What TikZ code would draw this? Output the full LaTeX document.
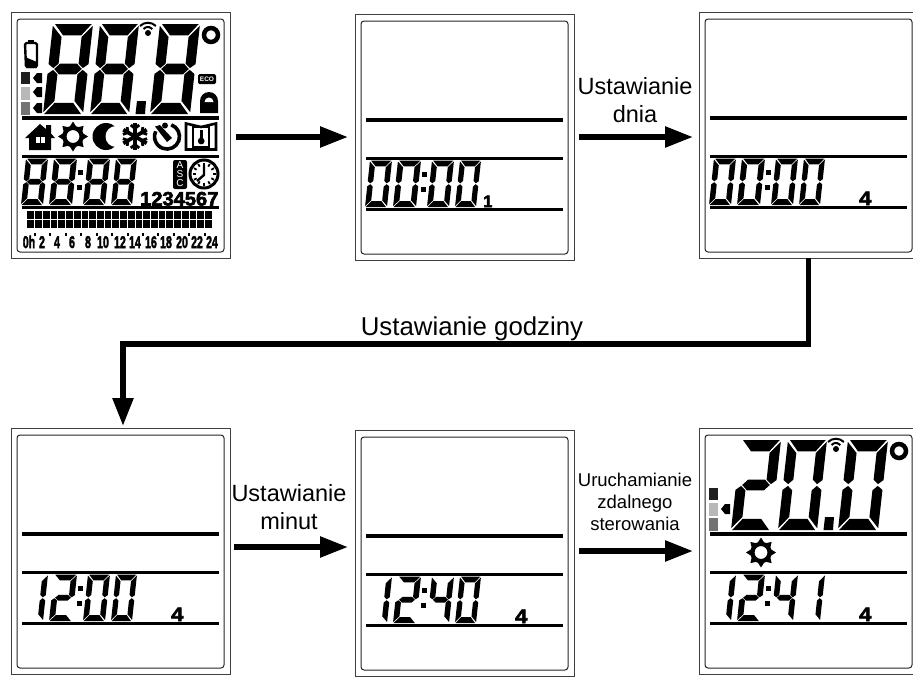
\documentclass[tikz,border=0pt]{standalone}
\usepackage{fontspec}
\usepackage{graphicx}
\setmainfont{Liberation Sans}
\newfontfamily\lcdb[FakeBold=3]{Liberation Sans Bold}
\usetikzlibrary{arrows.meta}
\def\sgA{\fill (.05,0)--(.97,0)--(.74,.125)--(.28,.125)--cycle;}
\def\sgB{\fill (1,.02)--(1,.445)--(.87,.49)--(.75,.44)--(.75,.145)--cycle;}
\def\sgC{\fill (1,.98)--(1,.555)--(.87,.51)--(.75,.56)--(.75,.855)--cycle;}
\def\sgD{\fill (.03,1)--(.95,1)--(.72,.875)--(.26,.875)--cycle;}
\def\sgE{\fill (0,.98)--(0,.555)--(.13,.51)--(.25,.56)--(.25,.855)--cycle;}
\def\sgF{\fill (0,.02)--(0,.445)--(.13,.49)--(.25,.44)--(.25,.145)--cycle;}
\def\sgG{\fill (.155,.5)--(.29,.44)--(.71,.44)--(.845,.5)--(.71,.56)--(.29,.56)--cycle;}
\def\dzero{A,B,C,D,E,F}
\def\done{B,C}
\def\dtwo{A,B,G,E,D}
\def\dfour{F,G,B,C}
\def\deight{A,B,C,D,E,F,G}
\newcommand\sevseg[6]{\begin{scope}[shift={(#1,#2)},x={(#3pt,0pt)},y={(-#5pt,-#4pt)}]
\foreach \s in #6 {\csname sg\s\endcsname}
\end{scope}}
\newcommand\smalltime[4]{%
\sevseg{26}{158.5}{22}{46.5}{5}{#1}
\sevseg{54}{158.5}{23}{46.5}{5}{#2}
\sevseg{88}{158.5}{22}{46.5}{5}{#3}
\sevseg{116}{158.5}{21}{46.5}{5}{#4}
\fill (77.5,170)rectangle(82.5,175);
\fill (76.5,185)rectangle(81.5,190);}
\newcommand\bigtemp[3]{%
\sevseg{53}{24}{40}{90}{10}{#1}
\sevseg{100}{24}{39}{90}{10}{#2}
\sevseg{160}{24}{40}{90}{10}{#3}
\fill (137,101)--(146,101)--(145,114)--(135.5,114)--cycle;}
\newcommand\common{%
\fill[black!88] (21,72)rectangle(30,84);
\fill[black!28] (21,87)rectangle(30,100);
\fill[black!55] (21,102)rectangle(30,115);
\draw[line width=4.5] (211,35) circle[radius=7];
\fill (148,33) circle[radius=3];
\draw[line width=2] (143.5,29) arc[start angle=-140,end angle=-40,radius=5.8];
\draw[line width=2] (140,26) arc[start angle=-135,end angle=-45,radius=11.2];}
\newcommand\pointer[1]{\fill (33,#1)--(37,#1-5)--(42,#1-5)--(42,#1+5)--(37,#1+5)--cycle;}
\newcommand\sunicon{\begin{scope}[shift={(73,136.5)}]
\foreach \a in {0,45,...,315} {\fill (\a-21:10) -- (\a:15) -- (\a+21:10) -- cycle;}
\draw[line width=4.2] (0,0) circle[radius=8.6];
\end{scope}}
\newcommand\lcdpanel[4]{\begin{scope}[shift={(#2,#3)}]
\node[outerbox] (#1) at (120.5,135) {};
\node[innerbox] (#1in) at (120.5,135.5) {};
\draw[line width=3.2] (22,118)--(219,118);
\draw[line width=3] (22,156)--(219,156);
\draw[line width=3] (22,207)--(219,207);
#4
\end{scope}}
\tikzset{
 outerbox/.style={draw=black!75,fill=white,line width=1pt,minimum width=219pt,minimum height=246pt,inner sep=0pt,outer sep=0pt},
 innerbox/.style={draw=black!85,line width=1pt,rounded corners=3pt,minimum width=207pt,minimum height=233pt,inner sep=0pt,outer sep=0pt},
 bigarrow/.style={line width=5.5pt,-{Triangle[length=28pt,width=20pt]}},
 lab/.style={anchor=base,align=center,inner sep=0pt,font=\fontsize{23.5}{27.5}\selectfont},
 smalllab/.style={anchor=base,align=center,inner sep=0pt,font=\fontsize{18.5}{22}\selectfont},
 daynum/.style={anchor=base,inner sep=0pt,font=\lcdb\fontsize{19.5}{19.5}\selectfont},
 hourlab/.style={anchor=base,inner sep=0pt,font=\lcdb\fontsize{17}{17}\selectfont},
 asclab/.style={inner sep=0pt,text=white,font=\fontsize{10}{10}\selectfont},
}
\begin{document}
\begin{tikzpicture}[x=1pt,y=-1pt,line cap=butt]
\useasboundingbox (0,0) rectangle (913,678);
\clip (0,0) rectangle (913,678);
\fill[white] (0,0) rectangle (913,678);
% panel 1: all segments
\lcdpanel{p1}{0}{0}{%
\bigtemp{\deight}{\deight}{\deight}
\common
\pointer{78}\pointer{92}\pointer{108}
% battery
\draw[line width=2.4,rounded corners=1.5pt] (25,43)--(37,43)--(37,67)--(26,67)--cycle;
\fill (28,39.5)rectangle(34,43);
\fill (25,57)--(37,62)--(36.5,68)--(26,68)--cycle;
% ECO
\fill[rounded corners=1.5pt] (198,74)rectangle(216,84);
\node[inner sep=0pt,text=white,font=\bfseries\fontsize{6.5}{6.5}\selectfont] (eco) at (207,79) {ECO};
% lock
\fill (200,113)--(200,101) arc[start angle=180,end angle=360,radius=9]--(218,113)--cycle;
\fill[white] (204.5,102) arc[start angle=180,end angle=360,radius=4.5]--cycle;
% house
\fill (25,138)--(40,124)--(46,129)--(46,125)--(51,125)--(51,133.5)--(55,138)--(51,138)--(51,150)--(29,150)--(29,138)--cycle;
\fill[white] (35.5,137)rectangle(39.5,142.5);
\fill[white] (40.8,137)rectangle(45,142.5);
\sunicon
% moon
\fill (106,136.5) circle[radius=13.5];
\fill[white] (116,136.5) circle[radius=10.5];
% snowflake
\begin{scope}[shift={(135,136.5)}]
\foreach \a in {30,90,...,330} {
 \draw[line width=3.8] (0,0)--(\a:13.5);
 \draw[line width=2.8] (\a:8)--++(\a+50:5.5);
 \draw[line width=2.8] (\a:8)--++(\a-50:5.5);
}
\end{scope}
% timer
\draw[line width=3.6] (171.3,124.8) arc[start angle=-70,end angle=205,radius=12.5];
\fill (165,125.5) circle[radius=3];
\fill (155,126.5)--(160,125)--(172,138)--(167,142)--cycle;
% window
\draw[line width=2.6] (186,123.5)--(201,127)--(216,123.5)--(216,149.5)--(186,149.5)--cycle;
\draw[line width=2.6] (193,127)rectangle(209,147);
\fill (199.5,130)rectangle(203,140);
\fill (201.2,141) circle[radius=3.4];
% ASC
\fill[rounded corners=2pt] (173,160)rectangle(187,189);
\node[asclab] (ascA) at (180,165.5) {A};
\node[asclab] (ascS) at (180,174.5) {S};
\node[asclab] (ascC) at (180,183.5) {C};
% clock
\draw[line width=3] (204,174) circle[radius=14];
\foreach \a in {0,30,...,330} {\draw[line width=1.8] (204,174)++(\a:8.5)--++(\a:3);}
\draw[line width=2.4] (204,165)--(204,175)--(197,181);
\smalltime{\deight}{\deight}{\deight}{\deight}
\node[daynum,anchor=base west] (days) at (140,205.5) {\scalebox{1.03}[1]{1234567}};
% bar graph
\fill (27,211) rectangle (212,228);
\foreach \i in {1,...,23} {\draw[white,line width=.7] (27+\i*7.71,211)--(27+\i*7.71,228);}
\draw[white,line width=.7] (27,219.5)--(212,219.5);
% hour dots and labels
\foreach \i in {0,...,11} {\fill (34+\i*15.42,232.5)rectangle(36+\i*15.42,235.5);}
\foreach \t/\x in {0h/29,2/42,4/57,6/72,8/88,10/103,12/120,14/135,16/151,18/166,20/182,22/197,24/212}
 {\node[hourlab,name=hr\t] at (\x,248) {\scalebox{.62}[1]{\t}};}
}
% panel 2
\lcdpanel{p2}{344}{2}{%
\smalltime{\dzero}{\dzero}{\dzero}{\dzero}
\node[daynum,anchor=base west] (d2) at (139,205) {\fontsize{16.5}{16.5}\selectfont 1};
}
% panel 3
\lcdpanel{p3}{688}{0}{%
\smalltime{\dzero}{\dzero}{\dzero}{\dzero}
\node[daynum,anchor=base west] (d3) at (171,205) {\scalebox{1.12}[1]{4}};
}
% panel 4
\lcdpanel{p4}{0}{416}{%
\smalltime{\done}{\dtwo}{\dzero}{\dzero}
\node[daynum,anchor=base west] (d4) at (171,205) {\scalebox{1.12}[1]{4}};
}
% panel 5
\lcdpanel{p5}{344}{418}{%
\smalltime{\done}{\dtwo}{\dfour}{\dzero}
\node[daynum,anchor=base west] (d5) at (171,205) {\scalebox{1.12}[1]{4}};
}
% panel 6
\lcdpanel{p6}{688}{416}{%
\bigtemp{\dtwo}{\dzero}{\dzero}
\common
\pointer{93}
\sunicon
\smalltime{\done}{\dtwo}{\dfour}{\done}
\node[daynum,anchor=base west] (d6) at (171,205) {\scalebox{1.12}[1]{4}};
}
% connectors
\draw[bigarrow,shorten >=7pt,shorten <=6pt] ([yshift=-2pt]p1.east) -- (p2.west);
\draw[bigarrow,shorten >=6pt,shorten <=5pt] (p2.east) -- ([yshift=-2pt]p3.west);
\coordinate (elbowR) at (808.5,344);
\coordinate (elbowL) at (123,344);
\draw[bigarrow,shorten >=2pt,line join=miter] (p3.south) -- (elbowR) -- (elbowL) -- ([xshift=2.5pt]p4.north);
\draw[bigarrow,shorten >=7pt,shorten <=4pt] ([yshift=4pt]p4.east) -- ([yshift=6pt]p5.west);
\draw[bigarrow,shorten >=6pt,shorten <=5pt] ([yshift=2pt]p5.east) -- (p6.west);
% labels
\node[lab] (t1) at (635,122) {Ustawianie\\dnia};
\node[lab,font=\fontsize{25.8}{27.5}\selectfont] (t2) at (472,335) {Ustawianie godziny};
\node[lab] (t3) at (289,529) {Ustawianie\\minut};
\node[smalllab] (t4) at (635,530) {Uruchamianie\\zdalnego\\sterowania};
\end{tikzpicture}
\end{document}
